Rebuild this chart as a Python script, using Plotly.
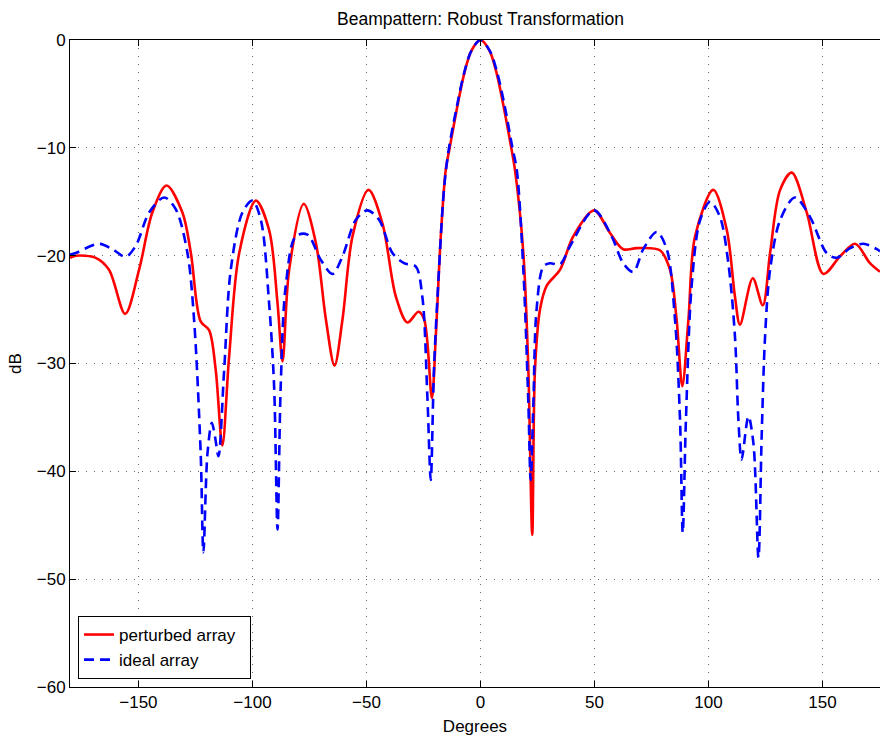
import plotly.graph_objects as go

# perturbed array (red, solid)
perturbed_deg = [-180, -177.5, -168.7, -162.9, -155.8, -149.7, -143.9, -137.7, -130.7, -127, -122.7, -119,
                 -116.1, -113.2, -110.2, -105.8, -98.5, -92.7, -89, -86.8, -83.9, -77.5, -72.2, -67.8,
                 -64, -60.5, -56.1, -49.1, -43, -37.1, -32, -27.2, -24.7, -21.3, -19.6, -17.4, -15.2,
                 -13.5, -10, -7, -4, 0, 4, 7, 10, 13.5, 15.1, 18.8, 21, 22.7, 23.9, 26.1, 29, 34.9,
                 40.7, 49.8, 56.8, 62.6, 68.5, 78.7, 83.1, 86, 88.5, 91.2, 94.1, 102.1, 108, 111.6,
                 113.8, 119.4, 123.8, 127, 131.4, 136.5, 143.1, 150.4, 157.7, 164.3, 170.8, 175.2]
perturbed_db = [-20.2, -20.0, -20.2, -21.3, -25.4, -21.3, -16.0, -13.5, -16.0, -19.75, -26.1, -26.9,
                -30.6, -37.6, -29.3, -19.75, -14.9, -17.6, -24.4, -29.8, -21.3, -15.2, -18.8, -25.9,
                -30.2, -25.9, -18.2, -13.9, -17.0, -23.8, -26.2, -25.2, -25.9, -33.2, -27.5, -18.2, -12.0,
                -10.0, -6.0, -3.0, -1.0, 0.0, -1.0, -3.0, -6.0, -10.0, -12.0, -19.75, -30.6, -45.9, -30.6,
                -25.0, -22.8, -21.3, -18.2, -15.8, -17.9, -19.4, -19.3, -19.5, -21.3, -25.9, -32.1, -25.9,
                -18.2, -13.9, -17.6, -23.8, -26.4, -22.1, -24.6, -19.75, -13.9, -12.3, -16.0, -21.7,
                -20.06, -18.9, -20.7, -21.5]

# ideal array (blue, dashed)
ideal_deg = [-180, -177.5, -167.3, -161.4, -155.6, -151.2, -145.3, -138.7, -133.6, -128.5, -125.6, -122.7,
             -121.5, -119.7, -117.8, -116.4, -114.9, -112.4, -109.5, -104.4, -100, -96.3, -92.7, -90.5,
             -89, -87.6, -85.4, -81, -75.9, -70.0, -64.9, -60.5, -54.7, -49.6, -44.4, -38.6, -33.5,
             -28.4, -25.5, -23.3, -21.8, -20.4, -18.2, -15.9, -13.8, -10.2, -7.1, -4, 0, 4.1, 7.3,
             10.5, 14, 15.9, 18.8, 21, 22, 23.2, 24.6, 27.6, 30.5, 34.9, 39.3, 49.8, 57.5, 62.6, 67.0,
             71.4, 77.3, 81.7, 85.3, 87.5, 88.7, 90.1, 92.6, 96.3, 100.7, 105, 108.7, 111.6, 113.1,
             114.5, 117.5, 119.7, 121.9, 123.3, 124.8, 127, 131.4, 137.9, 144.5, 151.8, 156.2, 162.1,
             168, 173.8, 175.2]
ideal_db = [-19.9, -19.75, -18.9, -19.4, -20.1, -19.1, -16.0, -14.6, -15.7, -19.75, -25.9, -38.3,
            -47.5, -38.3, -35.5, -36.8, -38.6, -30.6, -21.3, -16.0, -14.9, -16.7, -24.4, -32.1,
            -45.4, -32.1, -22.8, -18.2, -18.05, -20.4, -21.7, -20.06, -16.7, -15.8, -16.7, -19.75, -20.7,
            -21.0, -23.8, -33.0, -40.8, -30.6, -21.3, -13.6, -10.0, -6.0, -3.0, -1.0, 0.0, -1.0, -3.0,
            -6.0, -10.0, -12.0, -21.3, -33.7, -40.8, -33.7, -25.0, -21.0, -20.7, -20.8, -19.1, -15.8,
            -18.2, -20.7, -21.5, -19.4, -17.8, -19.4, -25.9, -35.2, -45.7, -35.2, -22.8, -16.7, -15.0,
            -16.4, -20.7, -27.5, -35.2, -38.9, -34.9, -37.4, -48.0, -36.8, -27.5, -21.3, -16.7, -14.6,
            -16.4, -19.75, -20.2, -19.3, -18.9, -19.4, -19.6]

x_ticks = [-150, -100, -50, 0, 50, 100, 150]
y_ticks = [-60, -50, -40, -30, -20, -10, 0]

FONT = "Liberation Sans, Arial, Helvetica, sans-serif"

fig = go.Figure()
fig.add_trace(go.Scatter(x=perturbed_deg, y=perturbed_db, mode="lines", name="perturbed array\u00a0\u00a0",
                         line=dict(color="#ff0000", width=2.6, shape="spline", smoothing=0.9)))
fig.add_trace(go.Scatter(x=ideal_deg, y=ideal_db, mode="lines", name="ideal array",
                         line=dict(color="#0000ff", width=2.6, dash="10px,6px", shape="spline", smoothing=0.9)))

fig.update_layout(
    width=880, height=738,
    margin=dict(l=70, r=0, t=40, b=51),
    paper_bgcolor="white", plot_bgcolor="white",
    font=dict(family=FONT, size=17, color="black"),
    title=dict(text="Beampattern: Robust Transformation", x=480.5 / 880, xanchor="center",
               y=1 - 19 / 738, yanchor="middle", font=dict(size=17.5, family=FONT, color="black")),
    showlegend=True,
    legend=dict(x=0.0099, y=0.0124, xanchor="left", yanchor="bottom", bgcolor="white",
                bordercolor="black", borderwidth=1, font=dict(size=17, family=FONT),
                tracegroupgap=0, itemwidth=30),
)
fig.update_xaxes(range=[-180, 175.2], tickvals=x_ticks, ticks="inside", ticklen=6, tickcolor="black",
                 showline=True, linecolor="black", linewidth=1, mirror="ticks",
                 showgrid=True, gridcolor="#666666", gridwidth=1, griddash="1px,7px",
                 zeroline=False, tickfont=dict(size=17),
                 title=dict(text="Degrees", standoff=8, font=dict(size=17, family=FONT, color="black")))
fig.update_yaxes(range=[-60, 0], tickvals=y_ticks, ticks="inside", ticklen=6, tickcolor="black",
                 showline=True, linecolor="black", linewidth=1, mirror=False,
                 showgrid=True, gridcolor="#666666", gridwidth=1, griddash="1px,7px",
                 zeroline=False, tickfont=dict(size=17),
                 title=dict(text="dB", standoff=10, font=dict(size=17, family=FONT, color="black")))

fig.write_html("out.html", config={"displayModeBar": False},
               post_script="document.body.style.margin='0';document.body.style.overflow='hidden';")
